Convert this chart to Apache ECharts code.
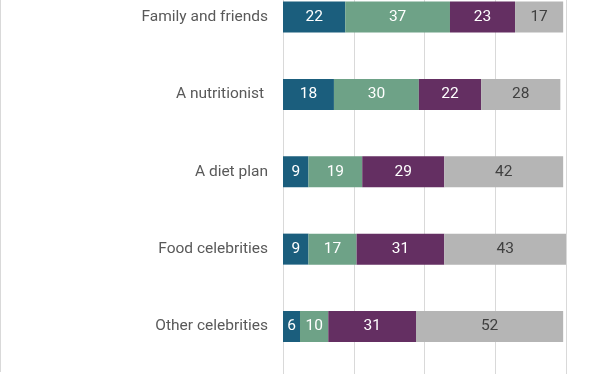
<!DOCTYPE html>
<html><head><meta charset="utf-8">
<script src="https://cdn.jsdelivr.net/npm/echarts@6/dist/echarts.min.js"></script>
<style>html,body{margin:0;padding:0;background:#fff}#c{width:612px;height:374px}</style>
</head><body><div id="c"></div>
<script>
const categories = ["Family and friends", "A nutritionist ", "A diet plan", "Food celebrities", "Other celebrities"];
const s1 = [22, 18, 9, 9, 6];
const s2 = [37, 30, 19, 17, 10];
const s3 = [23, 22, 29, 31, 31];
const s4 = [17, 28, 42, 43, 52];
const colors = ["#1b5e7d", "#6ea287", "#642f62", "#b5b5b5"];
const labelColors = ["#ffffff", "#ffffff", "#ffffff", "#404040"];
const seriesData = [s1, s2, s3, s4];

const chart = echarts.init(document.getElementById('c'));
const FONT = 'Roboto';
chart.setOption({
  animation: false,
  grid: [
    {left: 283, right: 46, top: 17, height: 309.5, containLabel: false},
    {left: 283, right: 46, top: -20, bottom: -20}
  ],
  xAxis: [
    {gridIndex: 0, type: 'value', min: 0, max: 100, interval: 25,
     axisLine: {show: false}, axisTick: {show: false}, axisLabel: {show: false},
     splitLine: {show: false}},
    {gridIndex: 1, type: 'value', min: 0, max: 100, interval: 25,
     axisLine: {show: false}, axisTick: {show: false}, axisLabel: {show: false},
     splitLine: {show: true, lineStyle: {color: '#d9d9d9', width: 1}}}
  ],
  yAxis: [
    {gridIndex: 0, type: 'category', data: categories, inverse: true, boundaryGap: false,
     axisLine: {show: false}, axisTick: {show: false}, splitLine: {show: false},
     axisLabel: {fontFamily: FONT, fontSize: 15.5, color: '#595959', margin: 15}},
    {gridIndex: 1, type: 'value', show: false}
  ],
  series: seriesData.map((d, i) => ({
    type: 'bar', stack: 'a', data: d, barWidth: 31, xAxisIndex: 0, yAxisIndex: 0,
    z: 3,
    itemStyle: {color: colors[i]},
    label: {show: true, position: 'inside', fontFamily: FONT, fontSize: 15.5, color: labelColors[i]}
  })),
  graphic: [
    {type: 'line', shape: {x1: 0.5, y1: 0, x2: 0.5, y2: 372}, style: {stroke: '#d9d9d9', lineWidth: 1}}
  ]
});
</script></body></html>
